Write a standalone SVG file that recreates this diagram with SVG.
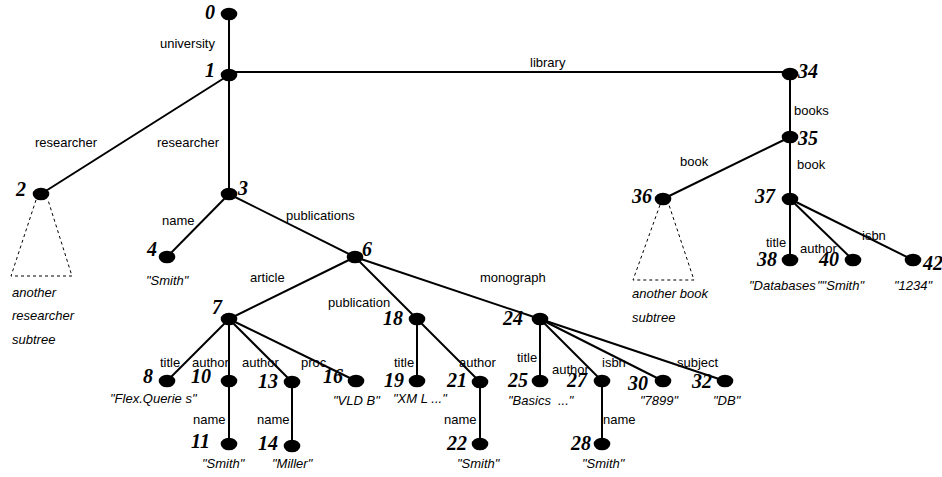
<svg xmlns="http://www.w3.org/2000/svg" width="942" height="477" viewBox="0 0 942 477">
<style>
.e{stroke:#000;stroke-width:2;fill:none}
.d{stroke:#000;stroke-width:1;stroke-dasharray:3,3;fill:none}
.n{fill:#000}
.id{font-family:"Liberation Serif","Times New Roman",serif;font-weight:bold;font-style:italic;font-size:20px;fill:#000}
.l{font-family:"Liberation Sans",Arial,sans-serif;font-size:13px;fill:#000}
.v{font-family:"Liberation Sans",Arial,sans-serif;font-size:13px;font-style:italic;fill:#000}
</style>
<rect width="942" height="477" fill="#fff"/>
<g id="connectors">
<line class="e" x1="229" y1="14" x2="229" y2="75"/>
<line class="e" x1="229" y1="72" x2="790" y2="72"/>
<line class="e" x1="229" y1="75" x2="41" y2="194"/>
<line class="e" x1="229" y1="75" x2="229" y2="194"/>
<line class="e" x1="229" y1="194" x2="167" y2="257"/>
<line class="e" x1="229" y1="194" x2="355" y2="257"/>
<line class="e" x1="355" y1="257" x2="229" y2="319"/>
<line class="e" x1="355" y1="257" x2="417" y2="319"/>
<line class="e" x1="355" y1="257" x2="540" y2="319"/>
<line class="e" x1="229" y1="319" x2="167" y2="381"/>
<line class="e" x1="229" y1="319" x2="229" y2="381"/>
<line class="e" x1="229" y1="319" x2="292" y2="382"/>
<line class="e" x1="229" y1="319" x2="356" y2="381"/>
<line class="e" x1="229" y1="381" x2="229" y2="444"/>
<line class="e" x1="292" y1="382" x2="292" y2="446"/>
<line class="e" x1="417" y1="319" x2="417" y2="381"/>
<line class="e" x1="417" y1="319" x2="480" y2="382"/>
<line class="e" x1="480" y1="382" x2="480" y2="444"/>
<line class="e" x1="540" y1="319" x2="540" y2="381"/>
<line class="e" x1="540" y1="319" x2="602" y2="381"/>
<line class="e" x1="540" y1="319" x2="663" y2="381"/>
<line class="e" x1="540" y1="319" x2="725" y2="381"/>
<line class="e" x1="602" y1="381" x2="602" y2="444"/>
<line class="e" x1="790" y1="74" x2="790" y2="137"/>
<line class="e" x1="790" y1="137" x2="663" y2="199"/>
<line class="e" x1="790" y1="137" x2="790" y2="199"/>
<line class="e" x1="790" y1="199" x2="790" y2="260"/>
<line class="e" x1="790" y1="199" x2="853" y2="260"/>
<line class="e" x1="790" y1="199" x2="913" y2="260"/>
<path class="d" d="M36,200 L11,276 L72,276 L48,200"/>
<path class="d" d="M660,205 L633,280 L694,280 L669,205"/>
<text class="l" x="160" y="48">university</text>
<text class="l" x="35" y="147">researcher</text>
<text class="l" x="157" y="147">researcher</text>
<text class="l" x="530" y="67">library</text>
<text class="l" x="794" y="115">books</text>
<text class="l" x="680" y="166">book</text>
<text class="l" x="797" y="169">book</text>
<text class="l" x="162" y="225">name</text>
<text class="l" x="286" y="220">publications</text>
<text class="l" x="250" y="282">article</text>
<text class="l" x="480" y="282">monograph</text>
<text class="l" x="328" y="307">publication</text>
<text class="l" x="160" y="367">title</text>
<text class="l" x="192" y="367">author</text>
<text class="l" x="242" y="367">author</text>
<text class="l" x="301" y="367">proc</text>
<text class="l" x="193" y="424">name</text>
<text class="l" x="257" y="424">name</text>
<text class="l" x="394" y="367">title</text>
<text class="l" x="459" y="367">author</text>
<text class="l" x="444" y="424">name</text>
<text class="l" x="517" y="362">title</text>
<text class="l" x="552" y="374">author</text>
<text class="l" x="602" y="367">isbn</text>
<text class="l" x="677" y="367">subject</text>
<text class="l" x="603" y="424">name</text>
<text class="l" x="766" y="247">title</text>
<text class="l" x="800" y="253">author</text>
<text class="l" x="862" y="240">isbn</text>
<text class="v" x="12" y="297">another</text>
<text class="v" x="12" y="320">researcher</text>
<text class="v" x="12" y="344">subtree</text>
<text class="v" x="632" y="298">another book</text>
<text class="v" x="632" y="322">subtree</text>
</g>
<g id="n0"><ellipse class="n" cx="229" cy="14" rx="8.3" ry="6.3"/><text class="id" x="205" y="19">0</text></g>
<g id="n1"><ellipse class="n" cx="229" cy="75" rx="8.3" ry="6.3"/><text class="id" x="205" y="77">1</text></g>
<g id="n2"><ellipse class="n" cx="41" cy="194" rx="8.3" ry="6.3"/><text class="id" x="16" y="196">2</text></g>
<g id="n3"><ellipse class="n" cx="229" cy="194" rx="8.3" ry="6.3"/><text class="id" x="238" y="195">3</text></g>
<g id="n4"><ellipse class="n" cx="167" cy="257" rx="8.3" ry="6.3"/><text class="id" x="147" y="256">4</text><text class="v" x="146" y="285">"Smith"</text></g>
<g id="n6"><ellipse class="n" cx="355" cy="257" rx="8.3" ry="6.3"/><text class="id" x="362" y="256">6</text></g>
<g id="n7"><ellipse class="n" cx="229" cy="319" rx="8.3" ry="6.3"/><text class="id" x="212" y="314">7</text></g>
<g id="n8"><ellipse class="n" cx="167" cy="381" rx="8.3" ry="6.3"/><text class="id" x="143" y="383">8</text><text class="v" x="110" y="403">"Flex.Querie s"</text></g>
<g id="n10"><ellipse class="n" cx="229" cy="381" rx="8.3" ry="6.3"/><text class="id" x="191" y="383">10</text></g>
<g id="n11"><ellipse class="n" cx="229" cy="444" rx="8.3" ry="6.3"/><text class="id" x="191" y="448">11</text><text class="v" x="202" y="468">"Smith"</text></g>
<g id="n13"><ellipse class="n" cx="292" cy="382" rx="8.3" ry="6.3"/><text class="id" x="258" y="388">13</text></g>
<g id="n14"><ellipse class="n" cx="292" cy="446" rx="8.3" ry="6.3"/><text class="id" x="258" y="450">14</text><text class="v" x="272" y="468">"Miller"</text></g>
<g id="n16"><ellipse class="n" cx="356" cy="381" rx="8.3" ry="6.3"/><text class="id" x="323" y="383">16</text><text class="v" x="333" y="405">"VLD B"</text></g>
<g id="n18"><ellipse class="n" cx="417" cy="319" rx="8.3" ry="6.3"/><text class="id" x="383" y="325">18</text></g>
<g id="n19"><ellipse class="n" cx="417" cy="381" rx="8.3" ry="6.3"/><text class="id" x="384" y="387">19</text><text class="v" x="393" y="403">"XM L ..."</text></g>
<g id="n21"><ellipse class="n" cx="480" cy="382" rx="8.3" ry="6.3"/><text class="id" x="447" y="387">21</text></g>
<g id="n22"><ellipse class="n" cx="480" cy="444" rx="8.3" ry="6.3"/><text class="id" x="447" y="450">22</text><text class="v" x="457" y="468">"Smith"</text></g>
<g id="n24"><ellipse class="n" cx="540" cy="319" rx="8.3" ry="6.3"/><text class="id" x="503" y="325">24</text></g>
<g id="n25"><ellipse class="n" cx="540" cy="381" rx="8.3" ry="6.3"/><text class="id" x="508" y="387">25</text><text class="v" x="508" y="405">"Basics<tspan x="558">..."</tspan></text></g>
<g id="n27"><ellipse class="n" cx="602" cy="381" rx="8.3" ry="6.3"/><text class="id" x="567" y="387">27</text></g>
<g id="n28"><ellipse class="n" cx="602" cy="444" rx="8.3" ry="6.3"/><text class="id" x="571" y="450">28</text><text class="v" x="582" y="468">"Smith"</text></g>
<g id="n30"><ellipse class="n" cx="663" cy="381" rx="8.3" ry="6.3"/><text class="id" x="628" y="390">30</text><text class="v" x="640" y="405">"7899"</text></g>
<g id="n32"><ellipse class="n" cx="725" cy="381" rx="8.3" ry="6.3"/><text class="id" x="692" y="388">32</text><text class="v" x="713" y="405">"DB"</text></g>
<g id="n34"><ellipse class="n" cx="790" cy="74" rx="8.3" ry="6.3"/><text class="id" x="798" y="78">34</text></g>
<g id="n35"><ellipse class="n" cx="790" cy="137" rx="8.3" ry="6.3"/><text class="id" x="798" y="145">35</text></g>
<g id="n36"><ellipse class="n" cx="663" cy="199" rx="8.3" ry="6.3"/><text class="id" x="632" y="203">36</text></g>
<g id="n37"><ellipse class="n" cx="790" cy="199" rx="8.3" ry="6.3"/><text class="id" x="755" y="203">37</text></g>
<g id="n38"><ellipse class="n" cx="790" cy="260" rx="8.3" ry="6.3"/><text class="id" x="757" y="266">38</text><text class="v" x="749" y="290">"Databases</text></g>
<g id="n40"><ellipse class="n" cx="853" cy="260" rx="8.3" ry="6.3"/><text class="id" x="819" y="266">40</text><text class="v" x="817" y="290">""Smith"</text></g>
<g id="n42"><ellipse class="n" cx="913" cy="260" rx="8.3" ry="6.3"/><text class="id" x="923" y="270">42</text><text class="v" x="894" y="290">"1234"</text></g>
</svg>
